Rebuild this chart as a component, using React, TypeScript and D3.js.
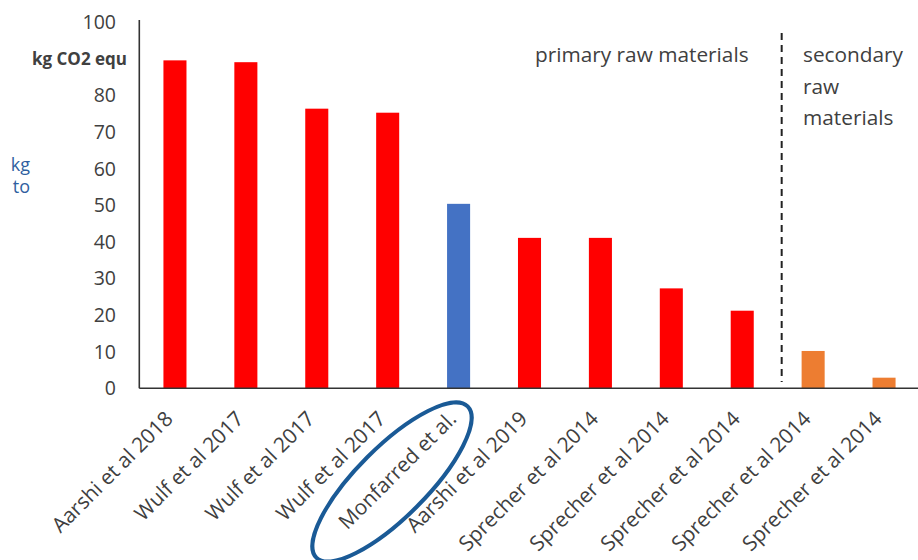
import React from "react";
import * as d3 from "d3";

const categories = [
  "Aarshi et al 2018",
  "Wulf et al 2017",
  "Wulf et al 2017",
  "Wulf et al 2017",
  "Monfarred et al.",
  "Aarshi et al 2019",
  "Sprecher et al 2014",
  "Sprecher et al 2014",
  "Sprecher et al 2014",
  "Sprecher et al 2014",
  "Sprecher et al 2014",
];
const values = [89.6, 89.1, 76.4, 75.3, 50.4, 41.1, 41.1, 27.3, 21.2, 10.2, 2.9];
const groups = ["p", "p", "p", "p", "own", "p", "p", "p", "p", "s", "s"];
const yTicks = [0, 10, 20, 30, 40, 50, 60, 70, 80, 100];

const W = 918;
const H = 560;
const FONT = "'Open Sans', 'Noto Sans', sans-serif";

export default function App() {
  const x = d3.scaleBand<number>().domain(d3.range(categories.length)).range([139.5, 919.5]).paddingInner(0.675).paddingOuter(0.3375);
  const y = d3.scaleLinear().domain([0, 100]).range([388.3, 22.3]);
  const color = (g: string) => (g === "own" ? "#4472c4" : g === "s" ? "#ed7d31" : "#ff0000");
  const divX = (x(9)! + x(8)!) / 2 + x.bandwidth() / 2 + 4;

  return (
    <svg width={W} height={H} style={{ position: "absolute", left: 0, top: 0, background: "#fff" }}>
      <rect width={W} height={H} fill="#fff" />
      {values.map((v, i) => (
        <rect key={i} x={x(i)} y={y(v)} width={x.bandwidth()} height={y(0) - y(v)} fill={color(groups[i])} />
      ))}
      <line x1={139.3} x2={139.3} y1={20} y2={y(0)} stroke="#333" strokeWidth={1.6} />
      <line x1={139.3} x2={W} y1={y(0)} y2={y(0)} stroke="#333" strokeWidth={1.6} />
      {yTicks.map((t) => (
        <text key={t} x={116} y={y(t)} dy="0.35em" textAnchor="end" fontFamily={FONT} fontSize={19.5} fill="#404040">
          {t}
        </text>
      ))}
      <text x={127} y={y(90)} dy="0.35em" textAnchor="end" fontFamily={FONT} fontSize={17} fontWeight="bold" fill="#404040">
        kg CO2 equ
      </text>
      <text x={30} y={165} dy="0.35em" textAnchor="end" fontFamily={FONT} fontSize={18} fill="#2f5fa0">
        kg
      </text>
      <text x={30} y={187} dy="0.35em" textAnchor="end" fontFamily={FONT} fontSize={18} fill="#2f5fa0">
        to
      </text>
      <line x1={divX} x2={divX} y1={33} y2={382} stroke="#222" strokeWidth={2} strokeDasharray="7,5" />
      <text x={535} y={55} dy="0.35em" fontFamily={FONT} fontSize={20.8} fill="#404040">
        primary raw materials
      </text>
      {["secondary", "raw", "materials"].map((s, i) => (
        <text key={s} x={803} y={55 + i * 31.5} dy="0.35em" fontFamily={FONT} fontSize={20.8} fill="#404040">
          {s}
        </text>
      ))}
      {categories.map((c, i) => {
        const cx = x(i)! + x.bandwidth() / 2;
        return (
          <text
            key={i}
            transform={`translate(${cx - 6},${415}) rotate(-45)`}
            textAnchor="end"
            dy="0.35em"
            fontFamily={FONT}
            fontSize={20.8}
            fill="#404040"
          >
            {c}
          </text>
        );
      })}
      <ellipse cx={392} cy={482} rx={107} ry={35} transform="rotate(-45 392 482)" fill="none" stroke="#1a5a96" strokeWidth={4} />
    </svg>
  );
}
